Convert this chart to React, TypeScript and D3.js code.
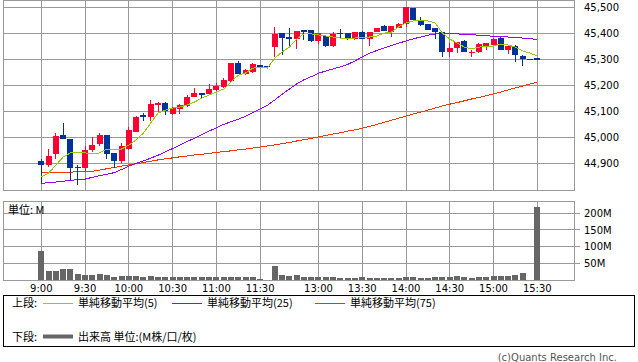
import React from 'react';
import * as d3 from 'd3';

// 5分足 (slot 0 = 9:00, slot 68 = 15:30)
const timeLabels = ['9:00', '9:30', '10:00', '10:30', '11:00', '11:30', '13:00', '13:30', '14:00', '14:30', '15:00', '15:30'];
const labelSlots = [0, 6, 12, 18, 24, 30, 38, 44, 50, 56, 62, 68];

const opens = [
  44910, 44895, 44935, 45010, 44995, 44885, 44880, 44950, 44975, 45010,
  44940, 44910, 44955, 45020, 45085, 45080, 45125, 45132, 45090, 45110,
  45120, 45155, 45170, 45167, 45182, 45194, 45217, 45287, 45244, 45252,
  45279, 45275, 45348, 45402, 45387, 45379, 45414, 45414, 45371, 45391,
  45352, 45403, 45402, 45379, 45406, 45379, 45406, 45429, 45406, 45422,
  45437, 45499, 45453, 45437, 45422, 45406, 45329, 45345, 45372, 45328,
  45329, 45352, 45356, 45383, 45337, 45352, 45314, 45302, 45306,
];
const closes = [
  44895, 44930, 45005, 44995, 44880, 44880, 44950, 44970, 45010, 44935,
  44910, 44965, 45030, 45080, 45078, 45130, 45132, 45100, 45113, 45125,
  45155, 45170, 45163, 45186, 45198, 45221, 45287, 45244, 45260, 45283,
  45271, 45271, 45398, 45383, 45379, 45410, 45406, 45371, 45402, 45352,
  45398, 45400, 45379, 45406, 45379, 45406, 45422, 45410, 45429, 45437,
  45503, 45453, 45433, 45414, 45406, 45329, 45345, 45368, 45329, 45330,
  45360, 45364, 45379, 45337, 45352, 45318, 45302, 45302, 45298,
];
const highs = [
  44915, 44955, 45015, 45055, 44995, 44895, 44965, 45000, 45015, 45010,
  44940, 44980, 45040, 45082, 45095, 45145, 45137, 45135, 45117, 45130,
  45163, 45190, 45172, 45206, 45210, 45229, 45287, 45294, 45264, 45287,
  45279, 45275, 45425, 45402, 45422, 45410, 45414, 45414, 45402, 45395,
  45406, 45418, 45402, 45406, 45410, 45406, 45422, 45433, 45429, 45441,
  45503, 45499, 45464, 45437, 45422, 45406, 45364, 45368, 45375, 45337,
  45364, 45364, 45383, 45387, 45352, 45356, 45318, 45302, 45306,
];
const lows = [
  44825, 44885, 44915, 44995, 44835, 44815, 44870, 44945, 44965, 44915,
  44880, 44900, 44950, 45020, 45065, 45065, 45095, 45085, 45088, 45090,
  45117, 45155, 45148, 45165, 45178, 45190, 45213, 45244, 45240, 45248,
  45271, 45271, 45310, 45317, 45345, 45341, 45375, 45368, 45360, 45348,
  45348, 45379, 45375, 45375, 45379, 45352, 45406, 45410, 45387, 45422,
  45426, 45453, 45429, 45414, 45379, 45310, 45310, 45325, 45329, 45310,
  45325, 45337, 45356, 45337, 45321, 45291, 45275, 45302, 45298,
];
// 出来高 (M)
const volumes = [
  87, 27, 27, 33, 33, 18, 15, 15, 18, 15,
  10, 12, 12, 12, 10, 12, 10, 10, 10, 10,
  10, 8, 10, 10, 10, 8, 10, 10, 8, 8,
  3, 1, 43, 15, 12, 15, 9, 9, 9, 9,
  9, 6, 6, 6, 9, 6, 6, 6, 6, 6,
  9, 9, 6, 6, 9, 9, 9, 12, 9, 6,
  9, 9, 12, 12, 12, 15, 21, 1, 218,
];
const ma5 = [
  44847, 44862, 44893, 44924, 44940, 44940, 44940, 44936, 44940, 44955,
  44955, 44955, 44970, 44990, 45017, 45055, 45094, 45105, 45113, 45117,
  45125, 45136, 45152, 45163, 45175, 45186, 45213, 45240, 45248, 45267,
  45271, 45267, 45306, 45329, 45348, 45379, 45399, 45399, 45395, 45391,
  45387, 45383, 45383, 45383, 45387, 45387, 45391, 45402, 45406, 45426,
  45441, 45449, 45449, 45449, 45441, 45402, 45379, 45364, 45348, 45341,
  45348, 45352, 45352, 45360, 45356, 45348, 45333, 45325, 45314,
];
const ma25 = [
  44823, 44825, 44828, 44831, 44834, 44837, 44839, 44846, 44852, 44858,
  44864, 44876, 44889, 44900, 44909, 44920, 44931, 44944, 44957, 44970,
  44984, 44997, 45011, 45024, 45037, 45050, 45060, 45070, 45081, 45096,
  45110, 45124, 45144, 45166, 45186, 45206, 45222, 45234, 45247, 45256,
  45264, 45272, 45281, 45295, 45310, 45324, 45335, 45345, 45354, 45363,
  45372, 45380, 45387, 45394, 45399, 45399, 45399, 45399, 45397, 45396,
  45394, 45392, 45390, 45389, 45387, 45385, 45383, 45380, 45378,
];
const ma75 = [
  44864, 44864, 44865, 44866, 44866, 44867, 44867, 44869, 44874, 44879,
  44884, 44889, 44894, 44898, 44903, 44908, 44913, 44917, 44921, 44925,
  44928, 44932, 44935, 44938, 44942, 44945, 44948, 44952, 44955, 44959,
  44963, 44967, 44971, 44976, 44980, 44986, 44991, 44996, 45002, 45007,
  45013, 45018, 45024, 45029, 45035, 45042, 45050, 45058, 45066, 45074,
  45082, 45090, 45097, 45105, 45113, 45121, 45128, 45134, 45141, 45148,
  45154, 45161, 45168, 45175, 45183, 45191, 45198, 45206, 45213,
];
const priceTicks = [44900, 45000, 45100, 45200, 45300, 45400, 45500];
const volumeTicks = [50, 100, 150, 200];

const width = 638;
const height = 362;
const plotLeft = 3;
const plotRight = 574;
const priceTop = 0;
const priceBottom = 190;
const volTop = 201;
const volBottom = 280;
const candleWidth = 6;

const upColor = '#ff0033';
const downColor = '#003399';
const gridColor = '#999999';
const ma5Color = '#99cc00';
const ma25Color = '#9900ff';
const ma75Color = '#ff3300';
const volColor = '#666666';
const numFont = 'DejaVu Sans';
const jpFont = 'Noto Sans CJK JP';

const xScale = d3.scaleLinear().domain([0, 68]).range([41.3, 537.3]);
const yScale = d3.scaleLinear().domain([44900, 45500]).range([163.3, 7.7]);
const vScale = d3.scaleLinear().domain([0, 200]).range([280, 213.3]);

const maLine = (vals: number[]) =>
  d3.line<number>().x((_, i) => xScale(i)).y(d => yScale(d))(vals) || '';

const App: React.FC = () => {
  const slots = d3.range(opens.length);
  return (
    <svg width={width} height={height} style={{position: 'absolute', left: 0, top: 0, background: 'white'}}>
      {/* 上段 grid */}
      <g shapeRendering="crispEdges">
        {priceTicks.map(t => (
          <line key={t} x1={plotLeft} x2={plotRight} y1={yScale(t)} y2={yScale(t)} stroke={gridColor}/>
        ))}
        {labelSlots.map(s => (
          <line key={s} x1={xScale(s)} x2={xScale(s)} y1={priceTop} y2={priceBottom} stroke={gridColor}/>
        ))}
        <rect x={plotLeft + 0.5} y={priceTop + 0.5} width={plotRight - plotLeft} height={priceBottom - priceTop} fill="none" stroke={gridColor}/>
      </g>
      {priceTicks.map(t => (
        <text key={t} x={584} y={yScale(t)} dy="0.36em" fontFamily={numFont} fontSize={10} fill="#000">
          {d3.format(',')(t)}
        </text>
      ))}

      {/* moving averages */}
      <g fill="none" strokeWidth={1} shapeRendering="crispEdges">
        <path d={maLine(ma75)} stroke={ma75Color}/>
        <path d={maLine(ma25)} stroke={ma25Color}/>
      </g>

      {/* candles */}
      <g shapeRendering="crispEdges">
        {slots.map(i => {
          const up = closes[i] > opens[i];
          const color = up ? upColor : downColor;
          const x = xScale(i);
          const top = yScale(Math.max(opens[i], closes[i]));
          const bot = yScale(Math.min(opens[i], closes[i]));
          return (
            <g key={i}>
              <line x1={x} x2={x} y1={yScale(highs[i])} y2={yScale(lows[i])} stroke={color}/>
              <rect x={x - candleWidth / 2} y={top} width={candleWidth} height={Math.max(bot - top, 1)} fill={color}/>
            </g>
          );
        })}
      </g>
      <path d={maLine(ma5)} fill="none" stroke={ma5Color} strokeWidth={1} shapeRendering="crispEdges"/>

      {/* 下段 volume */}
      <g shapeRendering="crispEdges">
        {volumeTicks.map(t => (
          <line key={t} x1={plotLeft} x2={plotRight + 6} y1={vScale(t)} y2={vScale(t)} stroke={gridColor}/>
        ))}
        {labelSlots.map(s => (
          <line key={s} x1={xScale(s)} x2={xScale(s)} y1={volTop} y2={volBottom} stroke={gridColor}/>
        ))}
        {slots.map(i => (
          <rect key={i} x={xScale(i) - candleWidth / 2} y={vScale(volumes[i])} width={candleWidth}
            height={vScale(0) - vScale(volumes[i])} fill={volColor}/>
        ))}
        <rect x={plotLeft + 0.5} y={volTop + 0.5} width={plotRight - plotLeft} height={volBottom - volTop} fill="none" stroke={gridColor}/>
      </g>
      <text x={8} y={214} fontFamily={jpFont} fontSize={11} fill="#000">単位: M</text>
      {volumeTicks.map(t => (
        <text key={t} x={584} y={vScale(t)} dy="0.36em" fontFamily={numFont} fontSize={10} fill="#000">{t}M</text>
      ))}
      {labelSlots.map((s, k) => (
        <text key={s} x={xScale(s)} y={292} textAnchor="middle" fontFamily={numFont} fontSize={10} fill="#000">
          {timeLabels[k]}
        </text>
      ))}

      {/* legend */}
      <rect x={3.5} y={295.5} width={631} height={51} fill="none" stroke="#000" shapeRendering="crispEdges"/>
      <g fontFamily={jpFont} fontSize={11} fill="#000">
        <text x={12} y={307}>上段:</text>
        <line x1={43} x2={73} y1={303.5} y2={303.5} stroke={ma5Color}/>
        <text x={78} y={307}>単純移動平均(5)</text>
        <line x1={172} x2={202} y1={303.5} y2={303.5} stroke={ma25Color}/>
        <text x={207} y={307}>単純移動平均(25)</text>
        <line x1={315} x2={345} y1={303.5} y2={303.5} stroke={ma75Color}/>
        <text x={350} y={307}>単純移動平均(75)</text>
        <text x={12} y={341}>下段:</text>
        <line x1={43} x2={73} y1={336.5} y2={336.5} stroke={volColor} strokeWidth={4}/>
        <text x={78} y={341}>出来高 単位:(M株/口/枚)</text>
      </g>
      <text x={617} y={361} textAnchor="end" fontFamily={numFont} fontSize={10} fill="#555">(c)Quants Research Inc.</text>
    </svg>
  );
};

export default App;
